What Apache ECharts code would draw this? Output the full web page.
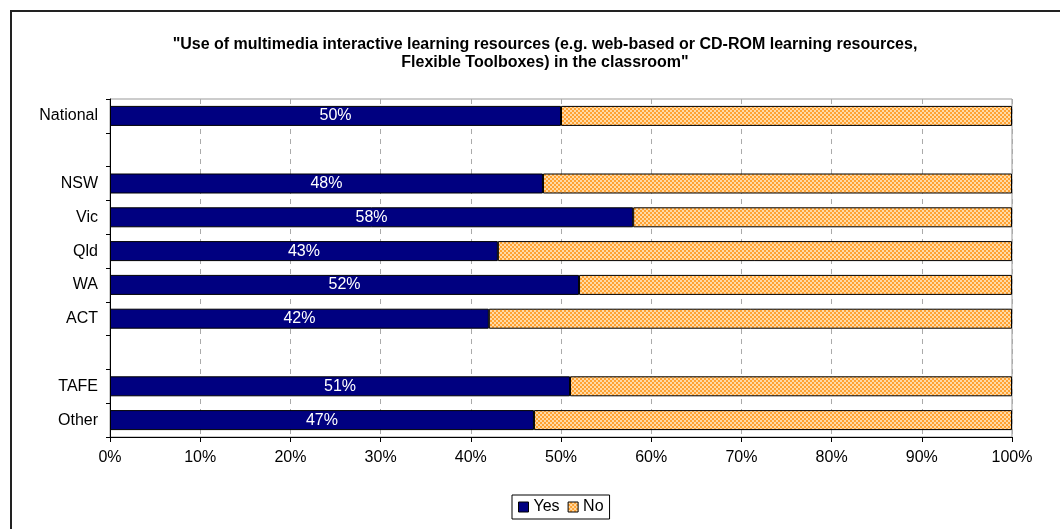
<!DOCTYPE html>
<html lang="en">
<head>
    <meta charset="UTF-8">
    <title>Multimedia learning resources</title>
</head>
<script type="text/javascript" src="https://cdn.jsdelivr.net/npm/echarts@6/dist/echarts.min.js"></script>
<style type="text/css">
    body {
        margin: 0;
        background-color: #ffffff;
    }
    #frame {
        position: absolute;
        left: 10px;
        top: 10px;
        width: 1070px;
        height: 540px;
        border: 2px solid #222;
        box-sizing: border-box;
    }
</style>
<body>
<div id="frame"></div>
<div id="bar_main" style="position:absolute;left:0;top:0;width:1060px;height:529px;"></div>
<script type="text/javascript">
    var categories = ['National', ' ', 'NSW', 'Vic', 'Qld', 'WA', 'ACT', '  ', 'TAFE', 'Other'];
    var yes_data = [50, '-', 48, 58, 43, 52, 42, '-', 51, 47];
    var no_data = [50, '-', 52, 42, 57, 48, 58, '-', 49, 53];
    var x_ticks = ['0%', '10%', '20%', '30%', '40%', '50%', '60%', '70%', '80%', '90%', '100%'];

    // checker pattern for the "No" bars
    var tile = document.createElement('canvas');
    tile.width = 4;
    tile.height = 4;
    var ctx = tile.getContext('2d');
    ctx.fillStyle = '#ffa232';
    ctx.fillRect(0, 0, 4, 4);
    ctx.fillStyle = '#ffdaa6';
    ctx.fillRect(0, 0, 2, 2);
    ctx.fillRect(2, 2, 2, 2);
    var no_fill = {image: tile, repeat: 'repeat'};

    var bar_chart = echarts.init(document.getElementById('bar_main'));
    bar_chart.setOption({
        animation: false,
        textStyle: {fontFamily: 'Arial, "Liberation Sans", sans-serif'},
        title: {
            text: '"Use of multimedia interactive learning resources (e.g. web-based or CD-ROM learning resources,\nFlexible Toolboxes) in the classroom"',
            left: 540,
            textAlign: 'center',
            top: 31,
            textStyle: {fontSize: 16, fontWeight: 'bold', color: '#000', lineHeight: 18}
        },
        legend: {
            data: ['Yes', 'No'],
            icon: 'rect',
            left: 512,
            top: 495,
            padding: [4, 6],
            itemGap: 8,
            itemWidth: 10,
            itemHeight: 10,
            borderColor: '#000',
            borderWidth: 1,
            textStyle: {fontSize: 16, color: '#000'},
            itemStyle: {borderColor: '#000', borderWidth: 1}
        },
        grid: {
            left: 110,
            right: 48,
            top: 99,
            bottom: 92,
            show: true,
            borderColor: '#999',
            borderWidth: 1
        },
        xAxis: {
            type: 'value',
            min: 0,
            max: 100,
            interval: 10,
            axisLine: {show: true, lineStyle: {color: '#000'}},
            axisTick: {show: true, length: 5, lineStyle: {color: '#000'}},
            axisLabel: {
                fontSize: 16,
                color: '#000',
                margin: 13,
                formatter: function (v) { return x_ticks[Math.round(v / 10)]; }
            },
            splitLine: {show: true, lineStyle: {color: '#aaa', type: [5, 5]}}
        },
        yAxis: {
            type: 'category',
            inverse: true,
            data: categories,
            axisLine: {show: true, lineStyle: {color: '#000'}},
            axisTick: {show: true, length: 4, lineStyle: {color: '#000'}},
            axisLabel: {fontSize: 16, color: '#000', margin: 12}
        },
        series: [
            {
                name: 'Yes',
                type: 'bar',
                stack: 'all',
                barWidth: 20,
                itemStyle: {color: '#000080', borderColor: '#000', borderWidth: 1},
                label: {
                    show: true,
                    position: 'inside',
                    color: '#fff',
                    fontSize: 16,
                    formatter: '{c}%'
                },
                data: yes_data
            },
            {
                name: 'No',
                type: 'bar',
                stack: 'all',
                barWidth: 20,
                itemStyle: {color: no_fill, borderColor: '#000', borderWidth: 1},
                data: no_data
            }
        ]
    });
</script>
</body>
</html>
